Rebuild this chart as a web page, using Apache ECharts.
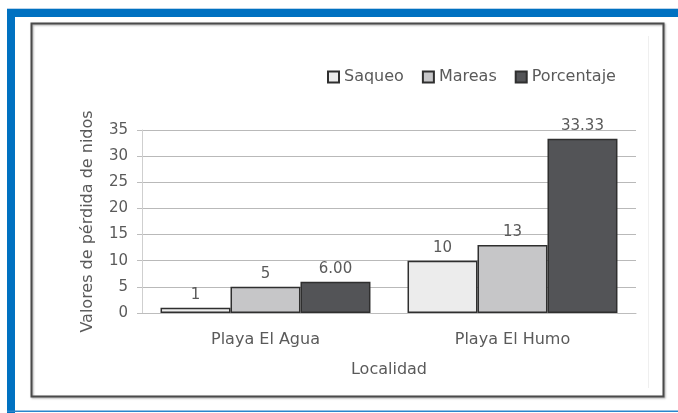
<!DOCTYPE html>
<html>
<head>
<meta charset="utf-8">
<style>
  html, body { margin: 0; padding: 0; background: #fff; }
  #chart { width: 678px; height: 413px; }
</style>
<script src="https://cdn.jsdelivr.net/npm/echarts@6/dist/echarts.min.js"></script>
</head>
<body>
<div id="chart"></div>
<script>
// Nest-loss values by locality
const localidades = ['Playa El Agua', 'Playa El Humo'];
const saqueo = [1, 10];
const mareas = [5, 13];
const porcentaje = [6.00, 33.33];
const yTicks = [0, 5, 10, 15, 20, 25, 30, 35];

const textColor = '#5a5a5a';
const font = 'DejaVu Sans, Verdana, sans-serif';

const chart = echarts.init(document.getElementById('chart'), null, { renderer: 'canvas' });

function barSeries(name, data, fill, fmt) {
  return {
    name: name,
    type: 'bar',
    data: data,
    barGap: '0%',
    barCategoryGap: '15%',
    itemStyle: { color: fill, borderColor: '#2f2f2f', borderWidth: 1.5 },
    label: {
      show: true,
      position: 'top',
      distance: 5,
      color: textColor,
      fontFamily: font,
      fontSize: 15,
      formatter: fmt
    }
  };
}

chart.setOption({
  animation: false,
  backgroundColor: '#fff',
  textStyle: { fontFamily: font },
  graphic: [
    // blue page frame
    { type: 'rect', shape: { x: 7, y: 8, width: 671, height: 1 }, style: { fill: '#b9d3ea' }, silent: true },
    { type: 'rect', shape: { x: 7, y: 9, width: 671, height: 8 }, style: { fill: '#0071c1' }, silent: true },
    { type: 'rect', shape: { x: 7, y: 9, width: 8, height: 404 }, style: { fill: '#0071c1' }, silent: true },
    { type: 'rect', shape: { x: 7, y: 410.5, width: 671, height: 1.5 }, style: { fill: '#2a86cc' }, silent: true },
    // chart box
    { type: 'rect', shape: { x: 31.5, y: 23.5, width: 632, height: 373 },
      style: { fill: 'none', stroke: '#4a4a4a', lineWidth: 2, shadowBlur: 2, shadowColor: 'rgba(0,0,0,0.35)', shadowOffsetX: 1, shadowOffsetY: 1 }, silent: true },
    { type: 'rect', shape: { x: 648, y: 36, width: 1, height: 352 }, style: { fill: '#efefef' }, silent: true }
  ],
  legend: {
    top: 64,
    left: 322,
    itemWidth: 11,
    itemHeight: 11,
    itemGap: 18,
    icon: 'rect',
    textStyle: { color: textColor, fontSize: 16, fontFamily: font },
    data: ['Saqueo', 'Mareas', 'Porcentaje']
  },
  grid: { left: 142, right: 42, top: 130, bottom: 100, containLabel: false },
  xAxis: {
    type: 'category',
    data: localidades,
    name: 'Localidad',
    nameLocation: 'middle',
    nameGap: 49,
    nameTextStyle: { color: textColor, fontSize: 16, fontFamily: font },
    axisLine: { lineStyle: { color: '#bdbdbd', width: 1 } },
    axisTick: { show: false },
    axisLabel: { color: textColor, fontSize: 16, fontFamily: font, margin: 19 }
  },
  yAxis: {
    type: 'value',
    min: 0,
    max: 35,
    interval: 5,
    name: 'Valores de pérdida de nidos',
    nameLocation: 'middle',
    nameRotate: 90,
    nameGap: 46,
    nameTextStyle: { color: textColor, fontSize: 16, fontFamily: font },
    axisLine: { show: true, lineStyle: { color: '#cfcfcf', width: 1 } },
    axisTick: { show: true, length: 5, lineStyle: { color: '#bdbdbd' } },
    axisLabel: {
      color: textColor, fontSize: 15, fontFamily: font, margin: 14,
      formatter: function (v) { return yTicks.indexOf(v) >= 0 ? String(v) : ''; }
    },
    splitLine: { lineStyle: { color: '#b9b9b9', width: 1 } }
  },
  series: [
    barSeries('Saqueo', saqueo, '#ececec', function (p) { return String(p.value); }),
    barSeries('Mareas', mareas, '#c6c6c8', function (p) { return String(p.value); }),
    barSeries('Porcentaje', porcentaje, '#535457', function (p) { return p.value.toFixed(2); })
  ]
});
</script>
</body>
</html>
